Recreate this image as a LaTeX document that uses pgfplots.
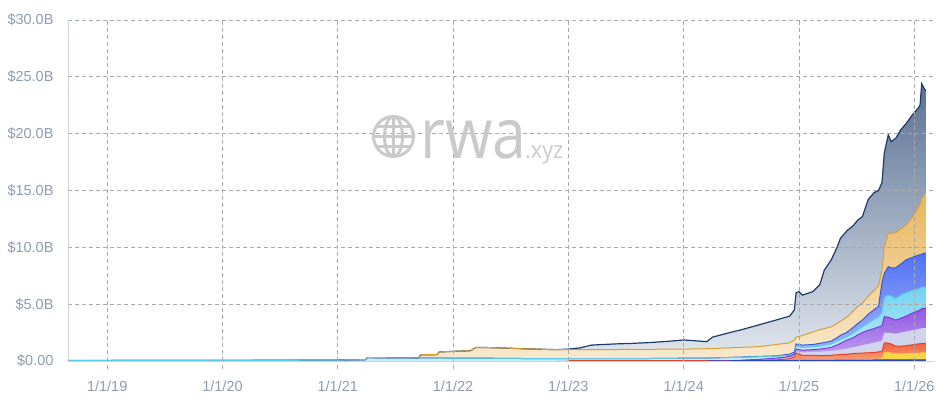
\documentclass[border=0pt]{standalone}
\usepackage{graphicx}
\usepackage{pgfplots}
\pgfplotsset{compat=1.18}
\usepackage{pgfplotstable}
\usepackage{fontspec}
\setmainfont{Liberation Sans}
\newfontfamily\wmfont{Open Sans}

\definecolor{navyL}{HTML}{1D3C6E}
\definecolor{navyT}{HTML}{5B7193}
\definecolor{navyB}{HTML}{E3E8EF}
\definecolor{goldL}{HTML}{D4A03C}
\definecolor{goldT}{HTML}{E8B55A}
\definecolor{goldB}{HTML}{F8EAD0}
\definecolor{blueL}{HTML}{3556E8}
\definecolor{blueT}{HTML}{5272F4}
\definecolor{blueB}{HTML}{A9BCF7}
\definecolor{cyanL}{HTML}{58C8EC}
\definecolor{cyanT}{HTML}{6FD3F1}
\definecolor{cyanB}{HTML}{CBEEFA}
\definecolor{purL}{HTML}{7B3FD8}
\definecolor{purT}{HTML}{9457E4}
\definecolor{purB}{HTML}{C2A6EE}
\definecolor{lavF}{HTML}{D2D3EC}
\definecolor{redL}{HTML}{E8432A}
\definecolor{redT}{HTML}{F0603C}
\definecolor{redB}{HTML}{F7A27A}
\definecolor{yelF}{HTML}{F8D448}
\definecolor{baseL}{HTML}{2A4BC0}
\definecolor{gridc}{HTML}{A9A9A9}
\definecolor{axisc}{HTML}{C9D4E0}
\definecolor{labelc}{HTML}{8E9BB0}
\definecolor{wmc}{HTML}{CACACA}

% cumulative tops (billions USD)
\pgfplotstableread{
t        base  yel   red   lav   pur   cya   blu   gol    nav
2018.66  0     0     0     0     0     0.04  0.04  0.04   0.04
2019.50  0     0     0     0     0     0.05  0.05  0.05   0.05
2020.50  0     0     0     0     0     0.06  0.06  0.06   0.06
2021.00  0     0     0     0     0     0.08  0.08  0.08   0.08
2021.24  0     0     0     0     0     0.12  0.12  0.12   0.12
2021.26  0     0     0     0     0     0.30  0.30  0.30   0.30
2021.50  0     0     0     0     0     0.28  0.28  0.28   0.28
2021.70  0     0     0     0     0     0.27  0.27  0.27   0.27
2021.72  0     0     0     0     0     0.27  0.27  0.55   0.55
2021.86  0     0     0     0     0     0.27  0.27  0.56   0.56
2021.88  0     0     0     0     0     0.27  0.27  0.80   0.80
2022.00  0     0     0     0     0     0.26  0.26  0.85   0.85
2022.15  0     0     0     0     0     0.26  0.26  0.90   0.90
2022.20  0     0     0     0     0     0.25  0.25  1.20   1.20
2022.40  0     0     0     0     0     0.24  0.24  1.16   1.16
2022.60  0     0     0     0     0     0.22  0.22  1.08   1.08
2022.90  0     0     0     0     0     0.20  0.20  1.00   1.00
2023.00  0     0     0.03  0.03  0.03  0.20  0.20  1.00   1.05
2023.10  0     0     0.03  0.03  0.03  0.20  0.20  1.00   1.15
2023.20  0     0     0.03  0.03  0.03  0.20  0.20  1.00   1.40
2023.24  0     0     0.03  0.03  0.03  0.20  0.20  1.00   1.42
2023.40  0     0     0.03  0.03  0.03  0.21  0.21  1.01   1.50
2023.55  0     0     0.03  0.03  0.03  0.21  0.21  1.02   1.55
2023.70  0     0     0.03  0.03  0.03  0.22  0.22  1.03   1.62
2023.85  0     0     0.03  0.03  0.03  0.23  0.23  1.04   1.72
2024.00  0     0     0.03  0.03  0.03  0.25  0.25  1.05   1.85
2024.10  0     0     0.03  0.03  0.03  0.25  0.25  1.06   1.78
2024.20  0     0     0.03  0.03  0.03  0.26  0.26  1.08   1.70
2024.25  0.02  0.02  0.03  0.03  0.03  0.27  0.27  1.10   2.10
2024.38  0.02  0.02  0.04  0.04  0.05  0.30  0.31  1.15   2.45
2024.50  0.03  0.03  0.05  0.05  0.07  0.33  0.35  1.20   2.75
2024.66  0.03  0.03  0.07  0.09  0.15  0.38  0.41  1.27   3.20
2024.80  0.04  0.04  0.10  0.15  0.25  0.42  0.45  1.45   3.60
2024.92  0.04  0.04  0.20  0.28  0.40  0.50  0.60  1.60   3.95
2024.96  0.05  0.05  0.35  0.45  0.60  0.70  0.80  1.85   4.50
2024.975 0.05  0.06  0.70  0.85  1.05  1.30  1.50  2.10   6.00
2025.00  0.05  0.06  0.60  0.80  1.00  1.25  1.45  2.15   6.10
2025.03  0.05  0.06  0.50  0.75  0.95  1.20  1.40  2.25   5.80
2025.12  0.05  0.07  0.50  0.80  1.00  1.25  1.45  2.55   6.10
2025.18  0.06  0.08  0.48  0.82  1.05  1.30  1.55  2.75   6.70
2025.22  0.06  0.08  0.48  0.85  1.10  1.38  1.62  2.85   8.00
2025.28  0.06  0.09  0.50  0.90  1.20  1.50  1.75  3.00   8.90
2025.33  0.07  0.10  0.55  0.95  1.40  1.75  2.05  3.30   10.00
2025.36  0.07  0.10  0.58  1.00  1.55  1.90  2.25  3.50   10.80
2025.42  0.07  0.12  0.60  1.10  1.85  2.15  2.55  3.90   11.50
2025.47  0.08  0.13  0.65  1.20  2.05  2.45  2.95  4.40   11.90
2025.51  0.08  0.14  0.68  1.30  2.30  2.75  3.30  4.80   12.40
2025.55  0.08  0.15  0.70  1.40  2.50  3.00  3.60  5.10   12.70
2025.60  0.08  0.17  0.72  1.50  2.70  3.35  4.10  5.70   14.20
2025.65  0.09  0.18  0.75  1.60  2.85  3.65  4.50  6.20   14.80
2025.69  0.09  0.20  0.80  1.70  3.00  3.90  4.80  6.60   15.00
2025.72  0.10  0.25  0.85  1.80  3.10  4.30  6.90  8.00   15.70
2025.74  0.10  0.80  1.60  2.50  3.90  5.60  7.70  10.00  18.30
2025.775 0.10  0.78  1.58  2.50  3.85  5.80  8.30  11.30  19.90
2025.80  0.10  0.72  1.50  2.45  3.75  5.70  8.20  11.20  19.30
2025.84  0.10  0.65  1.30  2.40  3.60  5.50  8.20  11.30  19.60
2025.88  0.10  0.65  1.30  2.50  3.75  5.80  8.50  11.60  20.30
2025.93  0.10  0.68  1.35  2.60  3.95  6.00  8.90  12.00  20.90
2025.98  0.10  0.70  1.42  2.70  4.20  6.20  9.10  12.60  21.60
2026.03  0.10  0.72  1.50  2.80  4.40  6.30  9.30  13.40  22.20
2026.05  0.10  0.73  1.52  2.85  4.50  6.40  9.35  13.80  22.50
2026.065 0.10  0.75  1.55  2.90  4.60  6.50  9.40  14.30  24.40
2026.09  0.10  0.75  1.55  2.90  4.65  6.50  9.50  14.70  23.90
2026.10  0.10  0.75  1.55  2.90  4.65  6.50  9.50  14.80  23.80
}\data

\begin{document}
\begin{tikzpicture}
\begin{axis}[
  name=ax,
  scale only axis,
  width=867pt, height=341pt,
  xmin=2018.66, xmax=2026.18,
  ymin=0, ymax=30,
  axis x line*=bottom, axis y line*=left,
  axis line style={draw=axisc, line width=0.8pt, -},
  axis on top,
  xtick={2019,2020,2021,2022,2023,2024,2025,2026},
  xticklabels={1/1/19,1/1/20,1/1/21,1/1/22,1/1/23,1/1/24,1/1/25,1/1/26},
  ytick={0,5,10,15,20,25,30},
  yticklabels={\$0.00,\$5.0B,\$10.0B,\$15.0B,\$20.0B,\$25.0B,\$30.0B},
  grid=major,
  major grid style={draw=gridc, line width=0.8pt, dash pattern=on 4pt off 3pt},
  tick align=outside,
  major tick length=8pt,
  xtick style={draw=gridc, line width=0.8pt, dash pattern=on 4pt off 3pt},
  ytick style={draw=none},
  tick label style={font=\fontsize{14.5}{16}\selectfont, text=labelc},
  yticklabel style={xshift=-3pt},
  xticklabel style={yshift=-8pt},
]
% fills, top layer first
\addplot[draw=none, top color=navyT, bottom color=navyB] table[x=t,y=nav]{\data} \closedcycle;
\addplot[draw=none, top color=goldT, bottom color=goldB] table[x=t,y=gol]{\data} \closedcycle;
\addplot[draw=none, top color=blueT, bottom color=blueB] table[x=t,y=blu]{\data} \closedcycle;
\addplot[draw=none, top color=cyanT, bottom color=cyanB] table[x=t,y=cya]{\data} \closedcycle;
\addplot[draw=none, top color=purT, bottom color=purB] table[x=t,y=pur]{\data} \closedcycle;
\addplot[draw=none, fill=lavF] table[x=t,y=lav]{\data} \closedcycle;
\addplot[draw=none, top color=redT, bottom color=redB] table[x=t,y=red]{\data} \closedcycle;
\addplot[draw=none, fill=yelF] table[x=t,y=yel]{\data} \closedcycle;
\addplot[draw=none, fill=baseL] table[x=t,y=base]{\data} \closedcycle;
% top lines
\addplot[navyL, line width=1.2pt] table[x=t,y=nav]{\data};
\addplot[goldL, line width=1pt] table[x=t,y=gol]{\data};
\addplot[blueL, line width=1pt] table[x=t,y=blu]{\data};
\addplot[cyanL, line width=1pt] table[x=t,y=cya]{\data};
\addplot[purL, line width=1pt, restrict x to domain=2024.5:2027] table[x=t,y=pur]{\data};
\addplot[redL, line width=1pt, restrict x to domain=2022.99:2027] table[x=t,y=red]{\data};
\addplot[baseL, line width=1pt, restrict x to domain=2024.2:2027] table[x=t,y=base]{\data};
\end{axis}
% watermark
\coordinate (g) at ([shift={(325.5pt,224.5pt)}]ax.south west);
\begin{scope}[shift={(g)}, draw=wmc, line width=3pt]
  \draw (0,0) circle[radius=20pt];
  \draw (0,0) ellipse[x radius=9pt, y radius=20pt];
  \draw (0,-20pt) -- (0,20pt);
  \draw (-20pt,0) -- (20pt,0);
  \draw (-17.3pt,10pt) -- (17.3pt,10pt);
  \draw (-17.3pt,-10pt) -- (17.3pt,-10pt);
\end{scope}
\node[anchor=base west, inner sep=0pt, text=wmc] at ([shift={(352pt,203pt)}]ax.south west) {\scalebox{0.87}[1]{\wmfont\fontsize{70}{70}\selectfont rwa}};
\node[anchor=base west, inner sep=0pt, text=wmc] at ([shift={(457pt,203pt)}]ax.south west) {\scalebox{0.9}[1]{\wmfont\fontsize{24}{24}\selectfont .xyz}};
\pgfresetboundingbox
\path ([shift={(-68pt,-41pt)}]ax.south west) rectangle ([shift={(13pt,20pt)}]ax.north east);
\end{tikzpicture}
\end{document}
